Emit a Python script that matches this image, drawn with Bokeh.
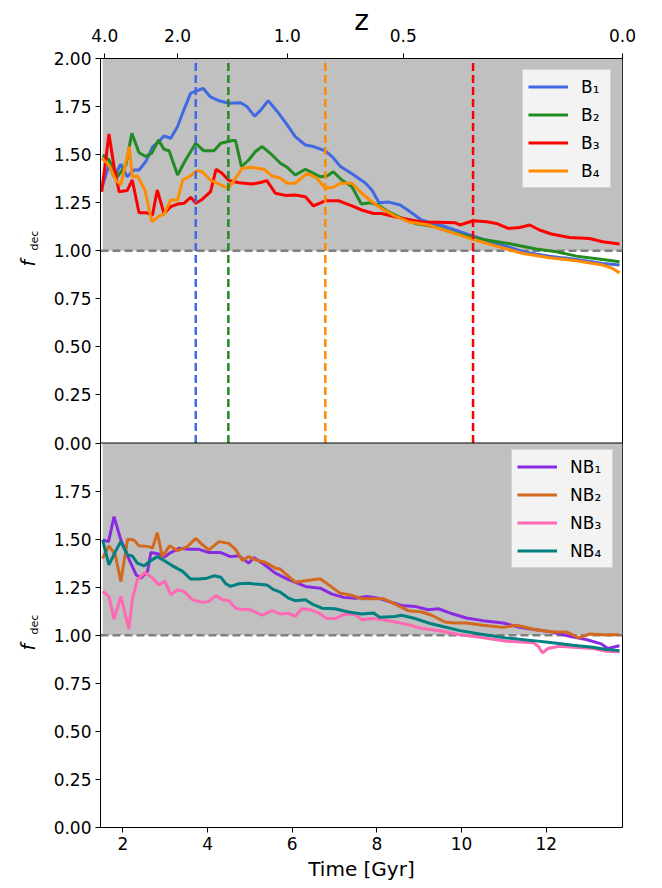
import math
from bokeh.plotting import figure
from bokeh.layouts import row
from bokeh.models import (Range1d, FixedTicker, LinearAxis, BoxAnnotation, Span, Label,
                          Legend, LegendItem)
from bokeh.embed import file_html
from bokeh.resources import INLINE

# ---------------- data ----------------
t_b1 = [1.51, 1.67, 1.79, 1.95, 2.10, 2.26, 2.38, 2.54, 2.70, 2.85, 2.97, 3.13, 3.29, 3.44, 3.60, 3.76,
        3.89, 4.07, 4.27, 4.50, 4.78, 4.93, 5.11, 5.25, 5.43, 5.68, 5.88, 6.07, 6.31, 6.50, 6.78, 6.94,
        7.13, 7.41, 7.72, 7.88, 8.05, 8.28, 8.55, 8.80, 9.05, 9.25, 9.55, 9.84, 10.19, 10.50, 10.82,
        11.15, 11.45, 11.75, 12.08, 12.40, 12.71, 13.00, 13.33, 13.73]
f_b1 = [1.333, 1.446, 1.385, 1.450, 1.385, 1.420, 1.420, 1.464, 1.540, 1.568, 1.597, 1.585, 1.646,
        1.733, 1.820, 1.833, 1.845, 1.800, 1.780, 1.767, 1.770, 1.750, 1.700, 1.730, 1.781, 1.715,
        1.655, 1.594, 1.550, 1.542, 1.520, 1.490, 1.440, 1.400, 1.354, 1.316, 1.250, 1.253, 1.238,
        1.200, 1.160, 1.146, 1.130, 1.108, 1.082, 1.060, 1.038, 1.016, 0.995, 0.983, 0.972, 0.963,
        0.955, 0.945, 0.934, 0.926]

t_b2 = [1.52, 1.67, 1.87, 2.07, 2.21, 2.38, 2.54, 2.68, 2.84, 2.97, 3.09, 3.29, 3.48, 3.72, 3.91, 4.15,
        4.31, 4.58, 4.66, 4.80, 4.97, 5.13, 5.29, 5.48, 5.72, 5.88, 6.07, 6.31, 6.50, 6.66, 6.82, 6.97,
        7.17, 7.41, 7.63, 7.84, 8.03, 8.27, 8.58, 8.90, 9.37, 9.80, 10.43, 11.14, 11.76, 12.24, 12.71,
        13.33, 13.73]
f_b2 = [1.498, 1.472, 1.385, 1.446, 1.611, 1.510, 1.490, 1.507, 1.576, 1.528, 1.520, 1.394, 1.472,
        1.559, 1.520, 1.520, 1.559, 1.573, 1.573, 1.437, 1.472, 1.516, 1.542, 1.507, 1.455, 1.434,
        1.394, 1.424, 1.403, 1.385, 1.389, 1.411, 1.368, 1.333, 1.243, 1.250, 1.238, 1.203, 1.170,
        1.142, 1.125, 1.094, 1.061, 1.036, 1.009, 0.995, 0.972, 0.955, 0.943]

t_b3 = [1.50, 1.67, 1.79, 1.91, 2.10, 2.22, 2.38, 2.54, 2.70, 2.81, 2.97, 3.13, 3.29, 3.44, 3.60, 3.72,
        3.87, 4.07, 4.20, 4.34, 4.50, 4.74, 5.05, 5.25, 5.40, 5.60, 5.84, 6.07, 6.31, 6.50, 6.78, 7.09,
        7.41, 7.64, 7.92, 8.11, 8.43, 8.74, 9.06, 9.45, 9.84, 9.96, 10.27, 10.59, 10.82, 11.10, 11.37,
        11.61, 11.84, 12.12, 12.55, 13.02, 13.33, 13.73]
f_b3 = [1.307, 1.607, 1.437, 1.307, 1.313, 1.368, 1.198, 1.198, 1.186, 1.316, 1.194, 1.229, 1.243,
        1.247, 1.278, 1.247, 1.267, 1.307, 1.424, 1.403, 1.365, 1.354, 1.347, 1.355, 1.365, 1.299,
        1.288, 1.290, 1.281, 1.233, 1.260, 1.260, 1.233, 1.212, 1.194, 1.194, 1.177, 1.163, 1.150,
        1.148, 1.146, 1.134, 1.156, 1.151, 1.142, 1.116, 1.121, 1.134, 1.108, 1.087, 1.069, 1.064,
        1.047, 1.035]

t_b4 = [1.50, 1.67, 1.83, 1.95, 2.15, 2.22, 2.34, 2.52, 2.68, 2.85, 2.97, 3.13, 3.29, 3.41, 3.56, 3.76,
        3.87, 4.07, 4.27, 4.49, 4.66, 4.82, 5.05, 5.33, 5.52, 5.72, 5.88, 6.07, 6.35, 6.58, 6.78, 6.97,
        7.13, 7.41, 7.64, 7.88, 8.11, 8.43, 8.74, 9.21, 9.53, 9.84, 10.19, 10.82, 11.45, 12.08, 12.71,
        13.33, 13.55, 13.73]
f_b4 = [1.481, 1.446, 1.368, 1.342, 1.542, 1.385, 1.389, 1.316, 1.151, 1.180, 1.190, 1.264, 1.264,
        1.368, 1.385, 1.417, 1.411, 1.368, 1.347, 1.325, 1.377, 1.429, 1.434, 1.424, 1.389, 1.377,
        1.351, 1.351, 1.403, 1.377, 1.325, 1.330, 1.351, 1.351, 1.299, 1.255, 1.220, 1.180, 1.151,
        1.134, 1.111, 1.090, 1.064, 1.024, 0.986, 0.964, 0.948, 0.926, 0.910, 0.885]

t_nb1 = [1.52, 1.66, 1.79, 1.95, 2.15, 2.31, 2.42, 2.58, 2.66, 2.85, 2.97, 3.13, 3.33, 3.56, 3.80, 4.03,
         4.31, 4.54, 4.74, 4.97, 5.09, 5.33, 5.60, 5.91, 6.31, 6.66, 6.94, 7.21, 7.49, 7.76, 8.03, 8.27,
         8.58, 8.90, 9.21, 9.45, 9.72, 10.11, 10.50, 10.98, 11.37, 11.76, 12.15, 12.55, 12.94, 13.30,
         13.45, 13.73]
f_nb1 = [1.496, 1.487, 1.617, 1.496, 1.392, 1.315, 1.297, 1.332, 1.430, 1.423, 1.406, 1.430, 1.453,
         1.447, 1.447, 1.430, 1.430, 1.409, 1.413, 1.375, 1.404, 1.369, 1.323, 1.289, 1.254, 1.245,
         1.214, 1.197, 1.193, 1.202, 1.193, 1.176, 1.155, 1.150, 1.133, 1.138, 1.116, 1.090, 1.076,
         1.064, 1.041, 1.029, 1.017, 0.995, 0.978, 0.955, 0.931, 0.945]

t_nb2 = [1.52, 1.67, 1.82, 1.95, 2.11, 2.26, 2.38, 2.62, 2.70, 2.81, 2.93, 3.10, 3.29, 3.52, 3.72, 3.88,
         4.03, 4.27, 4.50, 4.66, 4.82, 4.97, 5.13, 5.36, 5.60, 5.71, 5.91, 6.07, 6.31, 6.66, 6.86, 7.13,
         7.37, 7.64, 7.88, 8.15, 8.43, 8.74, 9.06, 9.29, 9.61, 9.84, 10.11, 10.50, 10.98, 11.30, 11.76,
         12.15, 12.47, 12.78, 13.02, 13.33, 13.73]
f_nb2 = [1.400, 1.465, 1.418, 1.280, 1.499, 1.496, 1.465, 1.461, 1.453, 1.534, 1.409, 1.465, 1.440,
         1.461, 1.504, 1.470, 1.444, 1.487, 1.478, 1.447, 1.389, 1.409, 1.392, 1.380, 1.349, 1.345,
         1.306, 1.276, 1.283, 1.294, 1.262, 1.219, 1.210, 1.190, 1.190, 1.190, 1.162, 1.128, 1.121,
         1.104, 1.069, 1.064, 1.064, 1.052, 1.041, 1.052, 1.029, 1.017, 1.017, 0.986, 1.007, 1.003,
         1.003]

t_nb3 = [1.52, 1.67, 1.79, 1.95, 2.14, 2.22, 2.34, 2.52, 2.70, 2.85, 2.99, 3.13, 3.29, 3.44, 3.64, 3.88,
         4.03, 4.19, 4.35, 4.50, 4.66, 4.82, 4.97, 5.13, 5.29, 5.52, 5.72, 5.91, 6.07, 6.22, 6.42, 6.62,
         6.82, 7.01, 7.25, 7.49, 7.64, 7.92, 8.15, 8.43, 8.74, 9.06, 9.45, 9.96, 10.43, 11.06, 11.69,
         11.81, 11.91, 12.04, 12.31, 12.63, 13.10, 13.41, 13.73]
f_nb3 = [1.228, 1.202, 1.084, 1.202, 1.033, 1.185, 1.289, 1.326, 1.297, 1.262, 1.280, 1.211, 1.237,
         1.228, 1.185, 1.171, 1.176, 1.206, 1.185, 1.181, 1.141, 1.133, 1.136, 1.120, 1.104, 1.128,
         1.111, 1.114, 1.098, 1.138, 1.133, 1.116, 1.087, 1.087, 1.111, 1.107, 1.081, 1.087, 1.081,
         1.069, 1.055, 1.035, 1.025, 1.003, 0.990, 0.969, 0.961, 0.943, 0.908, 0.931, 0.943, 0.938,
         0.931, 0.917, 0.914]

t_nb4 = [1.52, 1.67, 1.82, 1.95, 2.11, 2.22, 2.34, 2.50, 2.62, 2.81, 2.97, 3.17, 3.41, 3.60, 3.80, 3.99,
         4.15, 4.31, 4.43, 4.54, 4.74, 4.97, 5.13, 5.40, 5.56, 5.72, 5.91, 6.07, 6.31, 6.50, 6.70, 7.01,
         7.33, 7.64, 7.92, 8.07, 8.43, 8.58, 8.90, 9.21, 9.53, 9.96, 10.43, 11.06, 11.69, 12.15, 12.63,
         13.10, 13.41, 13.73]
f_nb4 = [1.496, 1.366, 1.435, 1.487, 1.418, 1.413, 1.375, 1.361, 1.383, 1.409, 1.389, 1.361, 1.332,
         1.292, 1.292, 1.297, 1.309, 1.302, 1.268, 1.254, 1.268, 1.271, 1.266, 1.262, 1.237, 1.224,
         1.193, 1.180, 1.185, 1.159, 1.141, 1.138, 1.121, 1.111, 1.116, 1.093, 1.098, 1.104, 1.087,
         1.064, 1.047, 1.024, 1.007, 0.986, 0.972, 0.961, 0.948, 0.938, 0.926, 0.920]

labels_b = ["B\u2081", "B\u2082", "B\u2083", "B\u2084"]
labels_nb = ["NB\u2081", "NB\u2082", "NB\u2083", "NB\u2084"]
colors_b = ["#4169e1", "#228b22", "#ff0000", "#ff8c00"]
colors_nb = ["#8a2be2", "#d2691e", "#ff69b4", "#008080"]

# vertical marker times (top panel) and their colours
vline_t = [3.72, 4.49, 6.78, 10.27]
vline_colors = ["#4169e1", "#228b22", "#ff8c00", "#ff0000"]

# redshift ticks on the top axis: their times and labels
z_tick_t = [1.57, 3.29, 5.88, 8.62, 13.80]
z_tick_labels = ["4.0", "2.0", "1.0", "0.5", "0.0"]

x_ticks = [2, 4, 6, 8, 10, 12]
y_ticks = [0.0, 0.25, 0.5, 0.75, 1.0, 1.25, 1.5, 1.75, 2.0]
y_tick_labels = ["0.00", "0.25", "0.50", "0.75", "1.00", "1.25", "1.50", "1.75", "2.00"]

t_min, t_max = 1.47, 13.8
shade_from = 1.52

FONT = "DejaVu Sans"

# ---------------- narrow strip holding the y-axis labels ----------------
lab = figure(width=40, height=888, x_range=Range1d(0, 40), y_range=Range1d(0, 888),
             toolbar_location=None, output_backend="svg",
             x_axis_location=None, y_axis_location=None,
             min_border_left=0, min_border_right=0, min_border_top=0, min_border_bottom=0)
lab.grid.visible = False
lab.outline_line_color = None
lab.background_fill_color = "white"
lab.border_fill_color = "white"
# positions are screen pixels above the (row-aligned) frame bottom
for vy_f, vy_d in [(561, 577), (177, 193)]:
    lab.add_layout(Label(x=27, y=vy_f, x_units="screen", y_units="screen", text="f",
                         angle=math.pi / 2, text_font=FONT, text_font_style="italic",
                         text_font_size="19px", text_color="black",
                         text_align="left", text_baseline="alphabetic"))
    lab.add_layout(Label(x=34, y=vy_d, x_units="screen", y_units="screen", text="dec",
                         angle=math.pi / 2, text_font=FONT, text_font_size="11px",
                         text_color="black", text_align="left", text_baseline="alphabetic"))

# ---------------- main figure ----------------
p = figure(width=622, height=888, x_range=Range1d(t_min, t_max), y_range=Range1d(0, 4),
           toolbar_location=None, output_backend="svg",
           min_border_left=60, min_border_right=40, min_border_top=57, min_border_bottom=61)
p.extra_y_ranges = {"top": Range1d(-2, 2)}
p.grid.visible = False
p.outline_line_color = "black"
p.outline_line_width = 1
p.background_fill_color = "white"
p.border_fill_color = "white"

# shaded regions and reference lines
p.add_layout(BoxAnnotation(bottom=1, left=shade_from, y_range_name="top", fill_color="#c0c0c0",
                           fill_alpha=1, line_color=None, level="underlay"))
p.add_layout(BoxAnnotation(bottom=1, top=2, left=shade_from, fill_color="#c0c0c0",
                           fill_alpha=1, line_color=None, level="underlay"))
p.add_layout(Span(location=1, dimension="width", y_range_name="top", line_color="#808080",
                  line_dash="8 4", line_width=2.5, level="underlay"))
p.add_layout(Span(location=1, dimension="width", line_color="#808080",
                  line_dash="8 4", line_width=2.5, level="underlay"))

# curves
ts_b = [t_b1, t_b2, t_b3, t_b4]
fs_b = [f_b1, f_b2, f_b3, f_b4]
ts_nb = [t_nb1, t_nb2, t_nb3, t_nb4]
fs_nb = [f_nb1, f_nb2, f_nb3, f_nb4]

rend_b = []
for t, f, c in zip(ts_b, fs_b, colors_b):
    rend_b.append(p.line(t, f, color=c, line_width=3, y_range_name="top"))
rend_nb = []
for t, f, c in zip(ts_nb, fs_nb, colors_nb):
    rend_nb.append(p.line(t, f, color=c, line_width=3))

p.segment(x0=vline_t, x1=vline_t, y0=0, y1=2, color=vline_colors, line_width=2.5,
          line_dash="8 4", y_range_name="top")

# separator between the panels
p.add_layout(Span(location=2, dimension="width", line_color="black", line_width=1))

# axes
bottom_ax = p.below[0]
left_ax = p.left[0]
bottom_ax.ticker = FixedTicker(ticks=x_ticks)
bottom_ax.axis_label = "Time [Gyr]"

ytick_pos = list(y_ticks[:-1]) + [v + 2 for v in y_ticks]
overrides = {}
for v, lab_txt in zip(y_ticks[:-1], y_tick_labels[:-1]):
    overrides[v] = lab_txt
for v, lab_txt in zip(y_ticks, y_tick_labels):
    overrides[v + 2] = lab_txt
left_ax.ticker = FixedTicker(ticks=ytick_pos)
left_ax.major_label_overrides = overrides

top_ax = LinearAxis(ticker=FixedTicker(ticks=z_tick_t),
                    major_label_overrides=dict(zip(z_tick_t, z_tick_labels)),
                    axis_label="z")
p.add_layout(top_ax, "above")

for ax in [bottom_ax, left_ax, top_ax]:
    ax.major_label_text_font = FONT
    ax.major_label_text_font_size = "17px"
    ax.major_label_text_color = "black"
    ax.axis_label_text_font = FONT
    ax.axis_label_text_font_style = "normal"
    ax.axis_label_text_color = "black"
    ax.major_tick_in = 0
    ax.major_tick_out = 5
    ax.major_tick_line_color = "black"
    ax.minor_tick_line_color = None
    ax.axis_line_color = "black"
    ax.major_label_standoff = 4
bottom_ax.axis_label_text_font_size = "20px"
bottom_ax.axis_label_standoff = 4
top_ax.axis_label_text_font_size = "28px"
top_ax.major_label_standoff = 12
top_ax.axis_label_standoff = -11

# legends
def make_legend(labels, rends, location, label_width, margin):
    return Legend(items=[LegendItem(label=l, renderers=[r]) for l, r in zip(labels, rends)],
                  location=location, margin=margin,
                  label_text_font=FONT, label_text_font_size="17px", label_text_color="black",
                  glyph_width=40, glyph_height=23, spacing=5, padding=5,
                  label_standoff=13, label_width=label_width,
                  background_fill_color="white", background_fill_alpha=0.8,
                  border_line_color="#cccccc", border_line_alpha=0.8, border_line_width=1)

p.add_layout(make_legend(labels_b, rend_b, "top_right", 24, 11))
p.add_layout(make_legend(labels_nb, rend_nb, (411, 259), 37, 0))

layout = row(lab, p)
open("out.html", "w").write(file_html(layout, INLINE))
